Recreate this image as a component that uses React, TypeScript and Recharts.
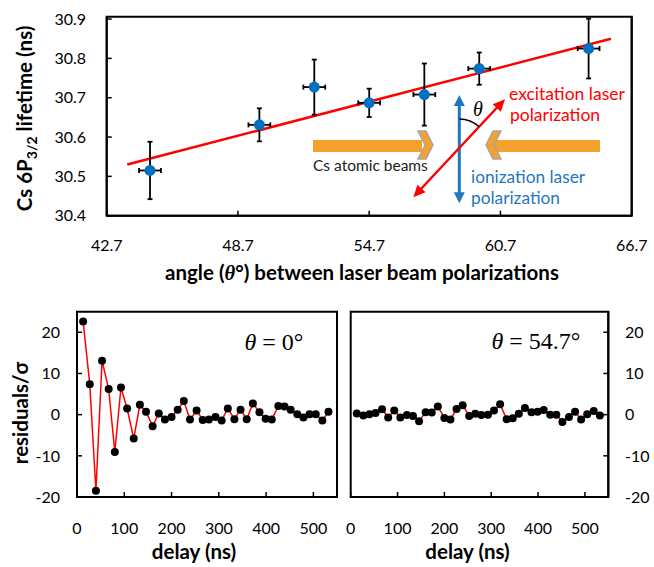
import React from 'react';
import { ComposedChart, Scatter, Line, XAxis, YAxis, ErrorBar, ReferenceArea } from 'recharts';

// top panel: lifetime vs polarization angle
const angles = [44.68, 49.68, 52.19, 54.7, 57.22, 59.73, 64.73];
const lifetimes = [30.515, 30.631, 30.727, 30.687, 30.708, 30.774, 30.825];
const lifetimeErr = [0.073, 0.042, 0.07, 0.036, 0.079, 0.041, 0.076];
const angleErr = [0.5, 0.5, 0.5, 0.5, 0.5, 0.5, 0.5];
const fitAngles = [43.64, 65.75];
const fitLifetimes = [30.53, 30.85];
const angleTicks = [42.7, 48.7, 54.7, 60.7, 66.7];
const lifetimeTicks = [30.4, 30.5, 30.6, 30.7, 30.8, 30.9];

// bottom panels: fit residuals vs delay
const delays = [13, 27, 40, 53, 67, 80, 93, 106, 120, 133, 146, 160, 173, 186, 200, 213, 226, 239, 253, 266,
  279, 293, 306, 319, 333, 346, 359, 372, 386, 399, 412, 426, 439, 452, 466, 479, 492, 505, 519, 532];
const residuals0 = [22.6, 7.4, -18.5, 13.1, 6.2, -9.1, 6.6, 1.5, -5.8, 2.4, 0.7, -2.8, 0.3, -1.2, -0.6, 1.2, 3.3, -1.2, 1.0, -1.3,
  -1.2, -0.6, -1.4, 1.5, -1.1, 1.2, -1.1, 2.7, 0.6, -1.0, -1.2, 2.1, 2.0, 1.2, 0.1, -0.7, 0.1, 0.1, -1.4, 0.7];
const residuals547 = [0.3, -0.2, 0.1, 0.4, 1.3, -0.7, 1.0, -0.7, -0.1, -0.3, -1.6, 0.6, 0.5, 2.0, -0.8, -1.2, 1.4, 2.3, -0.3, 0.2,
  -0.1, 0.0, 1.0, 2.5, -1.1, -0.9, 0.2, 1.6, 0.6, 0.7, 1.1, 0.0, 0.0, -1.8, -0.6, 0.7, -1.2, 0.1, 0.9, -0.2];
const delayTicks = [0, 100, 200, 300, 400, 500];
const residualTicks = [-20, -10, 0, 10, 20];

const FONT = 'Lato, "Open Sans", sans-serif';
const SERIF = '"Liberation Serif", serif';
const tickStyle = { fill: '#000', fontSize: 16, fontFamily: FONT };
const axisLine = { stroke: '#000', strokeWidth: 2 };
const tickLine = { stroke: '#000', strokeWidth: 1.5 };

const points = angles.map((a, i) => ({ x: a, y: lifetimes[i], ey: lifetimeErr[i], ex: angleErr[i] }));
const fit = fitAngles.map((a, i) => ({ x: a, y: fitLifetimes[i] }));
const res0 = delays.map((d, i) => ({ x: d, y: residuals0[i] }));
const res547 = delays.map((d, i) => ({ x: d, y: residuals547[i] }));

const ORANGE = '#F5A12D';
const BLUE = '#1E77C0';
const RED = '#FF0000';

function arrowHead(tx: number, ty: number, fx: number, fy: number, len: number, half: number, color: string) {
  const dx = tx - fx, dy = ty - fy;
  const L = Math.hypot(dx, dy);
  const ux = dx / L, uy = dy / L;
  const bx = tx - ux * len, by = ty - uy * len;
  const pts = `${tx},${ty} ${bx - uy * half},${by + ux * half} ${bx + uy * half},${by - ux * half}`;
  return <polygon points={pts} fill={color} />;
}

function Overlay() {
  const title = { fontFamily: FONT, fontWeight: 'bold' as const, fontSize: 20.5 };
  return (
    <svg width={654} height={567} style={{ position: 'absolute', left: 0, top: 0, pointerEvents: 'none' }}>
      {/* atomic beams */}
      <rect x={313} y={140} width={109} height={12} fill={ORANGE} />
      <polygon points="418,131 426,131 433,145 426,159 418,159 425,145" fill={ORANGE} stroke="#A6A6A6" strokeWidth={1.5} />
      <rect x={494} y={140} width={106} height={12} fill={ORANGE} />
      <polygon points="501,131 493,131 486,145 493,159 501,159 494,145" fill={ORANGE} stroke="#A6A6A6" strokeWidth={1.5} />
      <text x={313} y={171} fontFamily={FONT} fontSize={15.5} fill="#222">Cs atomic beams</text>
      {/* ionization polarization */}
      <line x1={459.3} y1={104} x2={459.3} y2={194} stroke={BLUE} strokeWidth={3} />
      {arrowHead(459.3, 95, 459.3, 150, 11, 5.5, BLUE)}
      {arrowHead(459.3, 203.3, 459.3, 150, 11, 5.5, BLUE)}
      {/* excitation polarization */}
      <line x1={420} y1={190} x2={498} y2={106.5} stroke={RED} strokeWidth={2.5} />
      {arrowHead(505, 99.3, 413.3, 197.3, 12, 5.5, RED)}
      {arrowHead(413.3, 197.3, 505, 99.3, 12, 5.5, RED)}
      <path d="M 459.3 119 A 29 29 0 0 1 479.1 126.8" fill="none" stroke="#000" strokeWidth={1.5} />
      <text x={478} y={116} textAnchor="middle" fontFamily={SERIF} fontStyle="italic" fontSize={20}>θ</text>
      <text x={509} y={100} fontFamily={FONT} fontSize={17.5} fill={RED}>excitation laser</text>
      <text x={510} y={121} fontFamily={FONT} fontSize={17.5} fill={RED}>polarization</text>
      <text x={471} y={182.5} fontFamily={FONT} fontSize={17.3} fill={BLUE}>ionization laser</text>
      <text x={471} y={203.5} fontFamily={FONT} fontSize={17.3} fill={BLUE}>polarization</text>

      {/* axis titles */}
      <text transform="translate(32,118.5) rotate(-90)" textAnchor="middle" {...title}>
        Cs 6P<tspan fontSize={14} dy={5}>3/2</tspan><tspan dy={-5}> lifetime (ns)</tspan>
      </text>
      <text x={362} y={280} textAnchor="middle" {...title}>
        angle (<tspan fontFamily={SERIF} fontStyle="italic">θ</tspan>°) between laser beam polarizations
      </text>
      <text transform="translate(28,413) rotate(-90)" textAnchor="middle" {...title}>
        residuals/σ
      </text>
      <text x={194} y={558.5} textAnchor="middle" {...title}>delay (ns)</text>
      <text x={467.5} y={558.5} textAnchor="middle" {...title}>delay (ns)</text>

      {/* panel labels */}
      <text x={274} y={349.5} textAnchor="middle" fontFamily={SERIF} fontSize={24}>
        <tspan fontStyle="italic">θ</tspan> = 0°
      </text>
      <text x={536} y={348.5} textAnchor="middle" fontFamily={SERIF} fontSize={24}>
        <tspan fontStyle="italic">θ</tspan> = 54.7°
      </text>
    </svg>
  );
}

export default function App() {
  return (
    <div style={{ position: 'absolute', left: 0, top: 0, width: 654, height: 567, background: '#fff', fontFamily: FONT }}>
      <div style={{ position: 'absolute', left: 0, top: 0 }}>
        <ComposedChart width={654} height={290} margin={{ top: 16.7, right: 0, left: 0, bottom: 34.3 }}>
          <XAxis type="number" dataKey="x" domain={[42.7, 66.7]} ticks={angleTicks} tickFormatter={(v) => v.toFixed(1)}
            allowDataOverflow height={40} tick={tickStyle} axisLine={axisLine} tickLine={tickLine} tickSize={-5} tickMargin={29} />
          <YAxis type="number" domain={[30.4, 30.906]} ticks={lifetimeTicks} tickFormatter={(v) => v.toFixed(1)}
            allowDataOverflow width={106.7} tick={tickStyle} axisLine={axisLine} tickLine={tickLine} tickSize={-5} tickMargin={25.7} />
          <YAxis yAxisId="r" orientation="right" type="number" domain={[30.4, 30.906]} ticks={lifetimeTicks}
            tickFormatter={() => ''} width={22.3} axisLine={axisLine} tickLine={tickLine} tickSize={-5} />
          <ReferenceArea x1={42.7} x2={66.7} y1={30.4} y2={30.906} fill="none" stroke="#000" strokeWidth={2} ifOverflow="visible" />
          <Line data={fit} dataKey="y" type="linear" stroke={RED} strokeWidth={2.5} dot={false} isAnimationActive={false} />
          <Scatter data={points} dataKey="y" fill="#0070C0" isAnimationActive={false}
            shape={(p: any) => <circle cx={p.cx} cy={p.cy} r={5.5} fill="#0070C0" />}>
            <ErrorBar dataKey="ey" direction="y" width={2.5} stroke="#000" strokeWidth={1.8} isAnimationActive={false} />
            <ErrorBar dataKey="ex" direction="x" width={2.5} stroke="#000" strokeWidth={1.8} isAnimationActive={false} />
          </Scatter>
        </ComposedChart>
      </div>

      <div style={{ position: 'absolute', left: 0, top: 300 }}>
        <ComposedChart width={345} height={267} margin={{ top: 11.7, right: 8, left: 0, bottom: 30 }}>
          <XAxis type="number" dataKey="x" domain={[0, 550]} ticks={delayTicks} allowDataOverflow height={40}
            tick={tickStyle} axisLine={axisLine} tickLine={tickLine} tickSize={-5} tickMargin={31} />
          <YAxis type="number" domain={[-20, 25]} ticks={residualTicks} allowDataOverflow width={77}
            tick={tickStyle} axisLine={axisLine} tickLine={tickLine} tickSize={-5} tickMargin={22} />
          <ReferenceArea x1={0} x2={550} y1={-20} y2={25} fill="none" stroke="#000" strokeWidth={2} ifOverflow="visible" />
          <Line data={res0} dataKey="y" type="linear" stroke={RED} strokeWidth={1.5} isAnimationActive={false}
            dot={{ r: 4, fill: '#000', stroke: '#000', strokeWidth: 0 }} />
        </ComposedChart>
      </div>

      <div style={{ position: 'absolute', left: 345, top: 300 }}>
        <ComposedChart width={309} height={267} margin={{ top: 11.7, right: 0, left: 5.7, bottom: 30 }}>
          <XAxis type="number" dataKey="x" domain={[0, 550]} ticks={delayTicks} allowDataOverflow height={40}
            tick={tickStyle} axisLine={axisLine} tickLine={tickLine} tickSize={-5} tickMargin={31} />
          <YAxis orientation="right" type="number" domain={[-20, 25]} ticks={residualTicks} allowDataOverflow width={45.7}
            tick={{ ...tickStyle, textAnchor: 'start' }} axisLine={axisLine} tickLine={tickLine} tickSize={-5} tickMargin={21.7} />
          <ReferenceArea x1={0} x2={550} y1={-20} y2={25} fill="none" stroke="#000" strokeWidth={2} ifOverflow="visible" />
          <Line data={res547} dataKey="y" type="linear" stroke={RED} strokeWidth={1.5} isAnimationActive={false}
            dot={{ r: 4, fill: '#000', stroke: '#000', strokeWidth: 0 }} />
        </ComposedChart>
      </div>

      <Overlay />
    </div>
  );
}
